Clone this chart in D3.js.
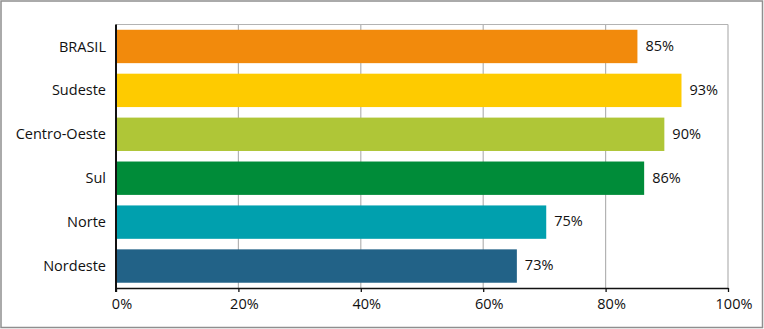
<!DOCTYPE html>
<html>
<head>
<meta charset="utf-8">
<script src="https://cdn.jsdelivr.net/npm/d3@7"></script>
<style>
    body { margin: 0; background: #fff; }
    text { font-family: "Open Sans", sans-serif; fill: #111; }
</style>
</head>
<body>
<div id="chart"></div>
<script>
    // regions, bar lengths as drawn, and the printed labels
    var regions = ["BRASIL", "Sudeste", "Centro-Oeste", "Sul", "Norte", "Nordeste"];
    var values = [85.2, 92.4, 89.6, 86.3, 70.3, 65.5];
    var valueLabels = ["85%", "93%", "90%", "86%", "75%", "73%"];
    var colors = ["#f28a0c", "#fecb00", "#afc637", "#008c39", "#00a0ae", "#226287"];
    var tickValues = [0, 20, 40, 60, 80, 100];

    var W = 764, H = 329;
    var margin = {
            top: 24.5,
            right: 36,
            bottom: 41,
            left: 116
        },
        width = W - margin.left - margin.right,
        height = H - margin.top - margin.bottom;

    var svg = d3.select("#chart").append("svg")
        .attr("width", W)
        .attr("height", H);

    // outer frame
    svg.append("rect")
        .attr("x", 1)
        .attr("y", 1)
        .attr("width", W - 2.5)
        .attr("height", H - 2.5)
        .attr("fill", "none")
        .attr("stroke", "#8f8f8f")
        .attr("stroke-width", 1.5);

    var g = svg.append("g")
        .attr("transform", "translate(" + margin.left + "," + margin.top + ")");

    var x = d3.scaleLinear()
        .domain([0, 100])
        .range([0, width]);

    var y = d3.scaleBand()
        .domain(regions)
        .range([0, height])
        .paddingInner(0.24)
        .paddingOuter(0.12);

    // gridlines
    g.selectAll(".grid")
        .data(tickValues.slice(1))
        .enter().append("line")
        .attr("class", "grid")
        .attr("x1", function(d) { return x(d); })
        .attr("x2", function(d) { return x(d); })
        .attr("y1", 0)
        .attr("y2", height)
        .attr("stroke", "#b3b3b3")
        .attr("stroke-width", 1.2);

    g.append("line")
        .attr("x1", 0)
        .attr("x2", width)
        .attr("y1", 0)
        .attr("y2", 0)
        .attr("stroke", "#b3b3b3")
        .attr("stroke-width", 1.2);

    // bars
    g.selectAll(".bar")
        .data(regions)
        .enter().append("rect")
        .attr("class", "bar")
        .attr("x", 0)
        .attr("y", function(d) { return y(d); })
        .attr("width", function(d, i) { return x(values[i]); })
        .attr("height", y.bandwidth())
        .attr("fill", function(d, i) { return colors[i]; });

    // value labels
    g.selectAll(".val")
        .data(regions)
        .enter().append("text")
        .attr("class", "val")
        .attr("x", function(d, i) { return x(values[i]) + 8; })
        .attr("y", function(d) { return y(d) + y.bandwidth() / 2; })
        .attr("dy", "0.3em")
        .style("font-size", "14.5px")
        .text(function(d, i) { return valueLabels[i]; });

    // category labels
    g.selectAll(".cat")
        .data(regions)
        .enter().append("text")
        .attr("class", "cat")
        .attr("x", -10)
        .attr("y", function(d) { return y(d) + y.bandwidth() / 2; })
        .attr("dy", "0.35em")
        .style("text-anchor", "end")
        .style("font-size", "14.5px")
        .text(function(d) { return d; });

    // bottom axis
    var xAxis = g.append("g")
        .attr("transform", "translate(0," + height + ")")
        .call(d3.axisBottom(x)
            .tickValues(tickValues)
            .tickSize(4)
            .tickSizeOuter(0)
            .tickFormat(function(d) { return d + "%"; }));

    xAxis.select(".domain").attr("stroke", "#111").attr("stroke-width", 1.6);
    xAxis.selectAll(".tick line").attr("stroke", "#111").attr("stroke-width", 1.3);
    xAxis.selectAll(".tick text")
        .attr("dx", 5.5)
        .attr("y", 11)
        .style("font-family", "'Open Sans', sans-serif")
        .style("font-size", "14.5px")
        .attr("fill", "#111");

    // left axis line
    g.append("line")
        .attr("x1", 0)
        .attr("x2", 0)
        .attr("y1", 0)
        .attr("y2", height + 4)
        .attr("stroke", "#111")
        .attr("stroke-width", 2);
</script>
</body>
</html>
